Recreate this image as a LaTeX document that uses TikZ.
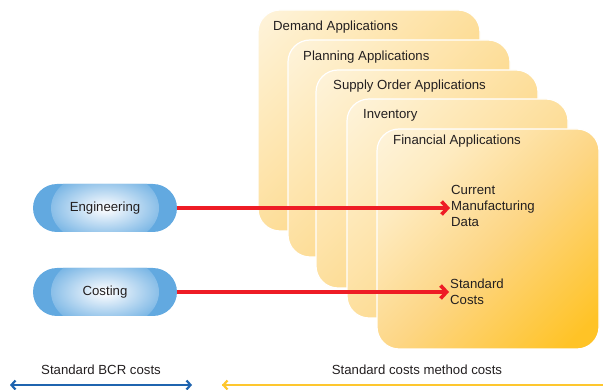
\documentclass[tikz,border=0pt]{standalone}
\usepackage{fontspec}
\setmainfont{Liberation Sans}
\usetikzlibrary{arrows.meta,positioning}

\definecolor{cardwhite}{HTML}{FFFCF6}
\definecolor{cardlight}{HTML}{FEEBC0}
\definecolor{cardyellow}{HTML}{FDD98C}
\definecolor{lastmid}{HTML}{FDD685}
\definecolor{lastdeep}{HTML}{FFC326}
\definecolor{ovalblue}{HTML}{62A9E0}
\definecolor{ovallight}{HTML}{EEF5FC}
\definecolor{linkred}{HTML}{EE1C25}
\definecolor{spanblue}{HTML}{1F64AF}
\definecolor{spanyellow}{HTML}{FEC72E}
\definecolor{textdark}{HTML}{231F20}

\pgfdeclarehorizontalshading{cardshade}{100bp}{color(0bp)=(cardwhite); color(30bp)=(cardlight); color(60bp)=(cardyellow); color(100bp)=(cardyellow)}
\pgfdeclarehorizontalshading{lastshade}{100bp}{color(0bp)=(cardwhite); color(30bp)=(cardlight); color(52bp)=(lastmid); color(80bp)=(lastdeep); color(100bp)=(lastdeep)}
\pgfdeclareradialshading{ovalshade}{\pgfpoint{0bp}{0bp}}{color(0bp)=(white); color(3bp)=(ovallight); color(25bp)=(ovalblue); color(50bp)=(ovalblue)}

\begin{document}
\begin{tikzpicture}[x=1pt,y=-1pt,
    font=\fontsize{13.2}{16}\selectfont, text=textdark,
    card/.style={draw=white, line width=1.2pt, rounded corners=22pt, shade, shading=cardshade,
        shading angle=-45, anchor=north west, inner sep=0pt, outer sep=0pt},
    cardtitle/.style={anchor=west, inner sep=0pt},
    oval/.style={rounded corners=24pt, minimum width=144pt, minimum height=48pt,
        fill=ovalblue, path picture={\shade[shading=ovalshade]
            (path picture bounding box.center) ellipse (54pt and 38pt);}},
    datatext/.style={anchor=west, align=left, inner sep=1pt},
    link/.style={draw=linkred, line width=3.6pt, -{Straight Barb[length=6pt,width=13pt]}},
    span/.style={line width=2.2pt, {Straight Barb[length=4pt,width=9pt]}-{Straight Barb[length=4pt,width=9pt]}}]
    \useasboundingbox (0,0) rectangle (603,390);

    % stacked application cards
    \node[card, minimum width=222pt, minimum height=221pt] (demand) at (258,10) {};
    \node[cardtitle] (demandlbl) at (273,27) {Demand Applications};
    \node[card, minimum width=222pt, minimum height=217pt] (planning) at (288,40) {};
    \node[cardtitle] (planninglbl) at (303,57) {Planning Applications};
    \node[card, minimum width=222pt, minimum height=218pt] (supply) at (316,70) {};
    \node[cardtitle] (supplylbl) at (333,86) {Supply Order Applications};
    \node[card, minimum width=221pt, minimum height=219pt] (inventory) at (347,99) {};
    \node[cardtitle] (inventorylbl) at (363,115) {Inventory};
    \node[card, shading=lastshade, minimum width=222pt, minimum height=220pt] (financial) at (377,129) {};
    \node[cardtitle] (financiallbl) at (393,141) {Financial Applications};

    % data held in the financial card
    \node[datatext] (current) at (450,206) {Current\\Manufacturing\\Data};
    \node[datatext] (stdcosts) at (449,291.5) {Standard\\Costs};

    % source systems
    \node[oval] (eng) at (105,208) {Engineering};
    \node[oval] (cost) at (105,292) {Costing};

    \draw[link] (eng.east) -- (eng.east -| current.west);
    \draw[link] (cost.east) -- (cost.east -| stdcosts.west);

    % cost ranges
    \node (bcrlbl) at (101,370) {Standard BCR costs};
    \node (methodlbl) at (417,370) {Standard costs method costs};
    \coordinate (bcrL) at (10,385);
    \coordinate (bcrR) at (192,385);
    \coordinate (methodL) at (222,385);
    \coordinate (methodR) at (603,385);
    \draw[span, draw=spanblue] (bcrL) -- (bcrR);
    \draw[span, draw=spanyellow, -] (methodR) -- (methodL);
    \draw[span, draw=spanyellow, {Straight Barb[length=4pt,width=9pt]}-] (methodL) -- +(20,0);
\end{tikzpicture}
\end{document}
